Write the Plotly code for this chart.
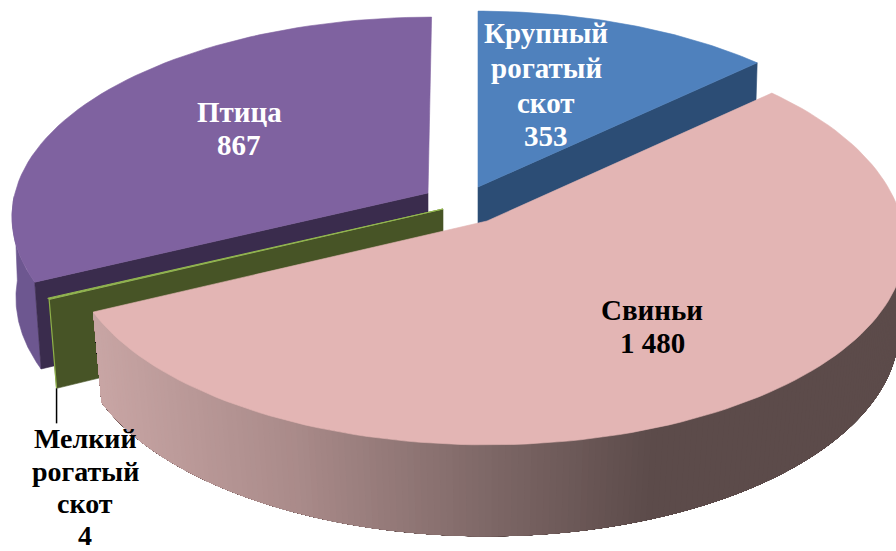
import math
import plotly.graph_objects as go

categories = [["Крупный", "рогатый", "скот"], ["Свиньи"], ["Мелкий", "рогатый", "скот"], ["Птица"]]
values = [353, 1480, 4, 867]
value_labels = ["353", "1 480", "4", "867"]

# geometry of the projected pie, in page pixels
TOP = dict(B=197, k=0.12)
BOTTOM = dict(B=205, k=0.10)
blue = dict(apex=(478, 187), A=413, A_bot=406, drop=46)
pink = dict(apex=(487, 221), A=415, A_bot=410, drop=87.5, far_x=10, far_y=1.03)
green = dict(apex=(443, 209), A=415, A_bot=411, drop=85.5)
purple = dict(apex=(428, 193), A=413, A_bot=410, drop=84, far_x=4)
label_x = [546, 652, 85, 239]
label_y = [[33, 68, 103, 136], [310, 343], [438, 471, 503, 535], [112, 145]]
label_col = ["white", "black", "black", "white"]
label_size = [29, 29, 28, 29]

total = sum(values)
edges = [0]
for v in values:
    edges.append(edges[-1] + 360 * v / total)


def pt(g, deg, bottom=False):
    p = BOTTOM if bottom else TOP
    t = math.radians(deg)
    s, c = math.sin(t), math.cos(t)
    w = 1 + p["k"] * c
    x = (g["A_bot"] if bottom else g["A"]) * s
    dy = p["B"] * c
    if c > 0:
        x += g.get("far_x", 0) * c * c
        dy *= g.get("far_y", 1)
    return (g["apex"][0] + x / w,
            g["apex"][1] + (g["drop"] if bottom else 0) - dy / w)


def arc(g, a, b, bottom=False, n=60):
    return [pt(g, a + (b - a) * i / n, bottom) for i in range(n + 1)]


fig = go.Figure()


def poly(points, color, line=None, width=0.6):
    xs = [p[0] for p in points] + [points[0][0]]
    ys = [p[1] for p in points] + [points[0][1]]
    fig.add_trace(go.Scatter(x=xs, y=ys, mode="lines", fill="toself", fillcolor=color,
                             line=dict(color=line or color, width=width),
                             hoverinfo="skip", showlegend=False))


def lerp_color(x):
    stops = [(97, (201, 166, 165)), (300, (170, 139, 138)), (500, (124, 102, 101)), (650, (92, 75, 74))]
    if x <= stops[0][0]:
        return "rgb(%d,%d,%d)" % stops[0][1]
    for (x0, c0), (x1, c1) in zip(stops, stops[1:]):
        if x <= x1:
            f = (x - x0) / (x1 - x0)
            return "rgb(%d,%d,%d)" % tuple(round(a + (b - a) * f) for a, b in zip(c0, c1))
    return "rgb(%d,%d,%d)" % stops[-1][1]


def bottom_apex(g):
    return (g["apex"][0], g["apex"][1] + g["drop"])


# purple slice
a0, a1 = edges[3], edges[4]
poly(arc(purple, a0, 269) + arc(purple, a0, 269, True)[::-1], "#6D5790")
poly([pt(purple, a0), pt(purple, a0, True), bottom_apex(purple), purple["apex"]], "#3A2C4D")
poly([purple["apex"]] + arc(purple, a0, a1), "#7F62A0")

# green slice
a0, a1 = edges[2], edges[3]
poly([pt(green, a0), pt(green, a0, True), bottom_apex(green), green["apex"]], "#475426")
poly([pt(green, a0), pt(green, a0, True)], "#8FB04A", width=1.2)
poly([green["apex"]] + arc(green, a0, a1, n=4), "#93B650", width=1)

# blue slice
a0, a1 = edges[0], edges[1]
poly([blue["apex"], pt(blue, a1), pt(blue, a1, True), bottom_apex(blue)], "#2C4D75")
poly([blue["apex"]] + arc(blue, a0, a1), "#4F81BD")

# pink slice: the wall is painted back to front so the shading has no seams
a0, a1 = edges[1], edges[2]
step = 0.8
deg = 85.0
while deg < a1:
    quad = arc(pink, deg, a1, n=60) + arc(pink, deg, a1, True, n=60)[::-1]
    poly(quad, lerp_color(pt(pink, deg, True)[0]), width=0)
    deg += step
poly([pink["apex"]] + arc(pink, a0, a1, n=120), "#E3B5B4")

# leader line of the smallest slice
lead = pt(green, edges[2], True)
fig.add_trace(go.Scatter(x=[lead[0], lead[0]], y=[lead[1], lead[1] + 35], mode="lines",
                         line=dict(color="black", width=1.5), hoverinfo="skip", showlegend=False))

for lines, lab, x, ys, col, size in zip(categories, value_labels, label_x, label_y, label_col, label_size):
    for txt, y in zip(lines + [lab], ys):
        fig.add_annotation(x=x, y=y, text="<b>%s</b>" % txt, showarrow=False, align="center",
                           font=dict(family="Liberation Serif", size=size, color=col))

fig.update_layout(width=896, height=551, margin=dict(l=0, r=0, t=0, b=0),
                  paper_bgcolor="white", plot_bgcolor="white", showlegend=False,
                  xaxis=dict(range=[0, 896], visible=False, fixedrange=True),
                  yaxis=dict(range=[551, 0], visible=False, fixedrange=True))
fig.write_html("out.html", config=dict(displayModeBar=False),
               post_script="document.body.style.margin='0';")
